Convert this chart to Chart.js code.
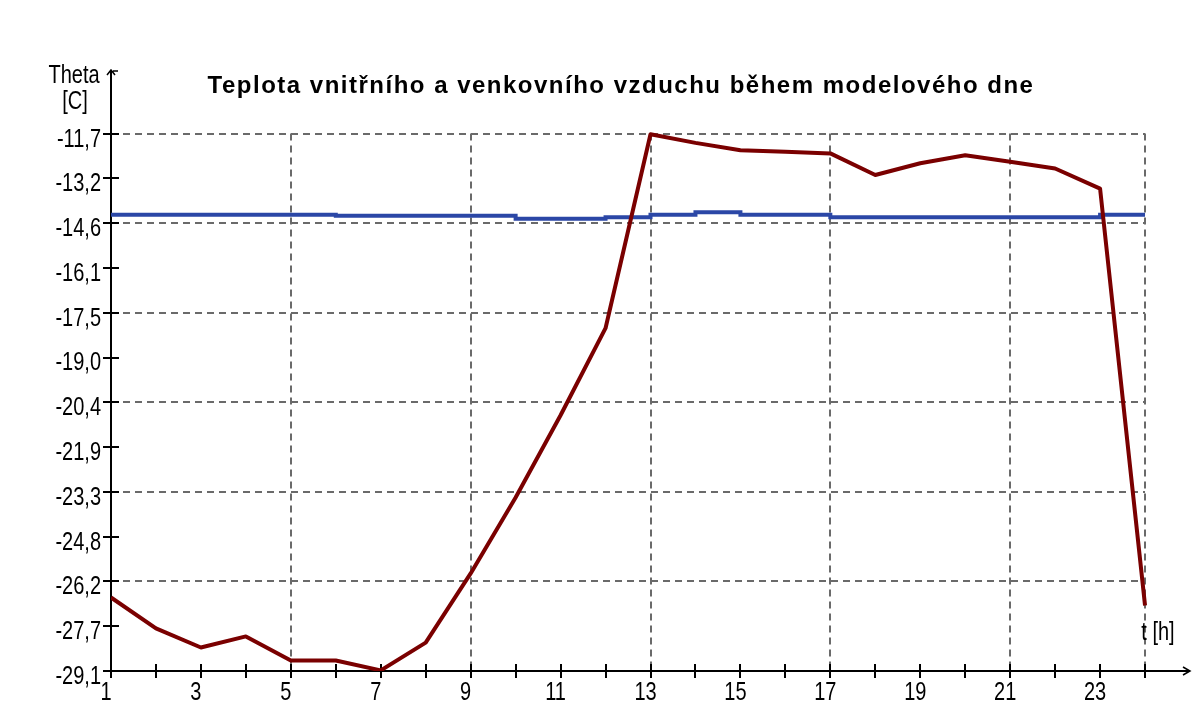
<!DOCTYPE html>
<html>
<head>
<meta charset="utf-8">
<script src="https://cdn.jsdelivr.net/npm/chart.js@4.4.0/dist/chart.umd.min.js"></script>
<style>
  html, body { margin: 0; padding: 0; background: #fff; }
</style>
</head>
<body>
<canvas id="chartTeplota" width="1200" height="722"></canvas>
<script>
// hodiny modeloveho dne
const hours = [1, 2, 3, 4, 5, 6, 7, 8, 9, 10, 11, 12, 13, 14, 15, 16, 17, 18, 19, 20, 21, 22, 23, 24];
const xLabelHours = [1, 3, 5, 7, 9, 11, 13, 15, 17, 19, 21, 23];
const xGridHours = [5, 9, 13, 17, 21, 24];

// osa y - hodnoty a popisky (jak v originale)
const yTicks = [-29.1, -27.65, -26.2, -24.75, -23.3, -21.85, -20.4, -18.95, -17.5, -16.05, -14.6, -13.15, -11.7];
const yTickLabels = ['-29,1', '-27,7', '-26,2', '-24,8', '-23,3', '-21,9', '-20,4', '-19,0', '-17,5', '-16,1', '-14,6', '-13,2', '-11,7'];
const yGridValues = [-26.2, -23.3, -20.4, -17.5, -14.6, -11.7];

// venkovni vzduch (cervena)
const tempVenkovni = [-26.72, -27.72, -28.34, -27.98, -28.76, -28.76, -29.08, -28.18, -25.94, -23.48, -20.82, -18.0,
  -11.72, -12.0, -12.24, -12.29, -12.34, -13.04, -12.66, -12.4, -12.61, -12.83, -13.48, -26.98];
// vnitrni vzduch (modra)
const tempVnitrni = [-14.33, -14.33, -14.33, -14.33, -14.33, -14.36, -14.36, -14.36, -14.36, -14.46, -14.46, -14.41,
  -14.33, -14.25, -14.33, -14.33, -14.41, -14.41, -14.41, -14.41, -14.41, -14.41, -14.33, -14.33];

const titleText = 'Teplota vnitřního a venkovního vzduchu během modelového dne';
const labelFont = '25px "Liberation Sans", Arial, sans-serif';

// uzky text - puvodni font je uzky
function narrowText(ctx, text, px, py, sx) {
  ctx.save();
  ctx.translate(px, py);
  ctx.scale(sx, 1);
  ctx.fillText(text, 0, 0);
  ctx.restore();
}

// osy, mrizka a popisky kreslime sami
const axesPlugin = {
  id: 'axesPlugin',
  beforeDatasetsDraw(chart) {
    const ctx = chart.ctx;
    const x = chart.scales.x;
    const y = chart.scales.y;
    const left = x.getPixelForValue(1);
    const right = x.getPixelForValue(24);
    const top = y.getPixelForValue(yTicks[yTicks.length - 1]);
    const bottom = y.getPixelForValue(yTicks[0]);
    const axisEndX = chart.chartArea.right;
    const axisEndY = chart.chartArea.top;

    ctx.save();
    // mrizka
    ctx.strokeStyle = '#6a6a6a';
    ctx.lineWidth = 2;
    ctx.setLineDash([7, 5]);
    yGridValues.forEach(v => {
      const py = Math.round(y.getPixelForValue(v));
      ctx.beginPath();
      ctx.moveTo(left, py);
      ctx.lineTo(right, py);
      ctx.stroke();
    });
    xGridHours.forEach(h => {
      const px = Math.round(x.getPixelForValue(h));
      ctx.beginPath();
      ctx.moveTo(px, top);
      ctx.lineTo(px, bottom);
      ctx.stroke();
    });
    ctx.setLineDash([]);

    // osy
    ctx.strokeStyle = '#000';
    ctx.lineWidth = 2;
    ctx.beginPath();
    ctx.moveTo(left, bottom);
    ctx.lineTo(left, axisEndY);
    ctx.moveTo(left, bottom);
    ctx.lineTo(axisEndX, bottom);
    ctx.stroke();
    // sipky
    ctx.lineWidth = 1.5;
    ctx.beginPath();
    ctx.moveTo(left - 4, axisEndY + 5);
    ctx.lineTo(left, axisEndY);
    ctx.lineTo(left + 4, axisEndY + 5);
    ctx.moveTo(left + 2, axisEndY + 1);
    ctx.lineTo(left + 7, axisEndY + 1);
    ctx.moveTo(axisEndX - 7, bottom - 4);
    ctx.lineTo(axisEndX, bottom);
    ctx.lineTo(axisEndX - 7, bottom + 4);
    ctx.stroke();

    // carky na osach
    ctx.lineWidth = 2;
    ctx.beginPath();
    yTicks.forEach(v => {
      const py = Math.round(y.getPixelForValue(v));
      ctx.moveTo(left - 8, py);
      ctx.lineTo(left + 8, py);
    });
    hours.forEach(h => {
      const px = Math.round(x.getPixelForValue(h));
      ctx.moveTo(px, bottom - 7);
      ctx.lineTo(px, bottom + 7);
    });
    ctx.stroke();

    // popisky
    ctx.fillStyle = '#000';
    ctx.font = labelFont;
    ctx.textAlign = 'right';
    ctx.textBaseline = 'middle';
    yTicks.forEach((v, i) => {
      narrowText(ctx, yTickLabels[i], left - 10, y.getPixelForValue(v) + 6, 0.8);
    });
    ctx.textAlign = 'center';
    xLabelHours.forEach(h => {
      narrowText(ctx, String(h), x.getPixelForValue(h) - 5, bottom + 22, 0.8);
    });
    narrowText(ctx, 'Theta', 74, 76, 0.8);
    narrowText(ctx, '[C]', 75, 102, 0.8);
    narrowText(ctx, 't [h]', 1158, 633, 0.8);

    // titulek
    ctx.font = 'bold 24px "Liberation Sans", Arial, sans-serif';
    ctx.letterSpacing = '1.5px';
    ctx.textBaseline = 'alphabetic';
    ctx.fillText(titleText, 621, 93);
    ctx.restore();
  }
};

const data = {
  labels: hours,
  datasets: [{
    label: 'venkovní vzduch',
    data: tempVenkovni,
    borderColor: '#7a0000',
    borderWidth: 4,
    borderJoinStyle: 'round',
    pointRadius: 0,
    tension: 0,
    fill: false
  }, {
    label: 'vnitřní vzduch',
    data: tempVnitrni,
    borderColor: '#2b47a6',
    borderWidth: 4,
    pointRadius: 0,
    stepped: 'before',
    fill: false
  }]
};

const config = {
  type: 'line',
  data: data,
  options: {
    responsive: false,
    animation: false,
    devicePixelRatio: 1,
    layout: {
      padding: { left: 111, right: 10, top: 70, bottom: 51 }
    },
    scales: {
      x: {
        type: 'linear',
        min: 1,
        max: 25,
        display: false
      },
      y: {
        type: 'linear',
        min: -29.1,
        max: -9.64,
        display: false
      }
    },
    plugins: {
      legend: { display: false },
      title: { display: false },
      tooltip: { enabled: false }
    }
  },
  plugins: [axesPlugin]
};

// linearni osa x potrebuje body {x, y}
config.data.datasets.forEach(ds => {
  ds.data = ds.data.map((v, i) => ({ x: hours[i], y: v }));
});

const node = document.getElementById('chartTeplota');
var chartTeplota = new Chart(node, config);
</script>
</body>
</html>
